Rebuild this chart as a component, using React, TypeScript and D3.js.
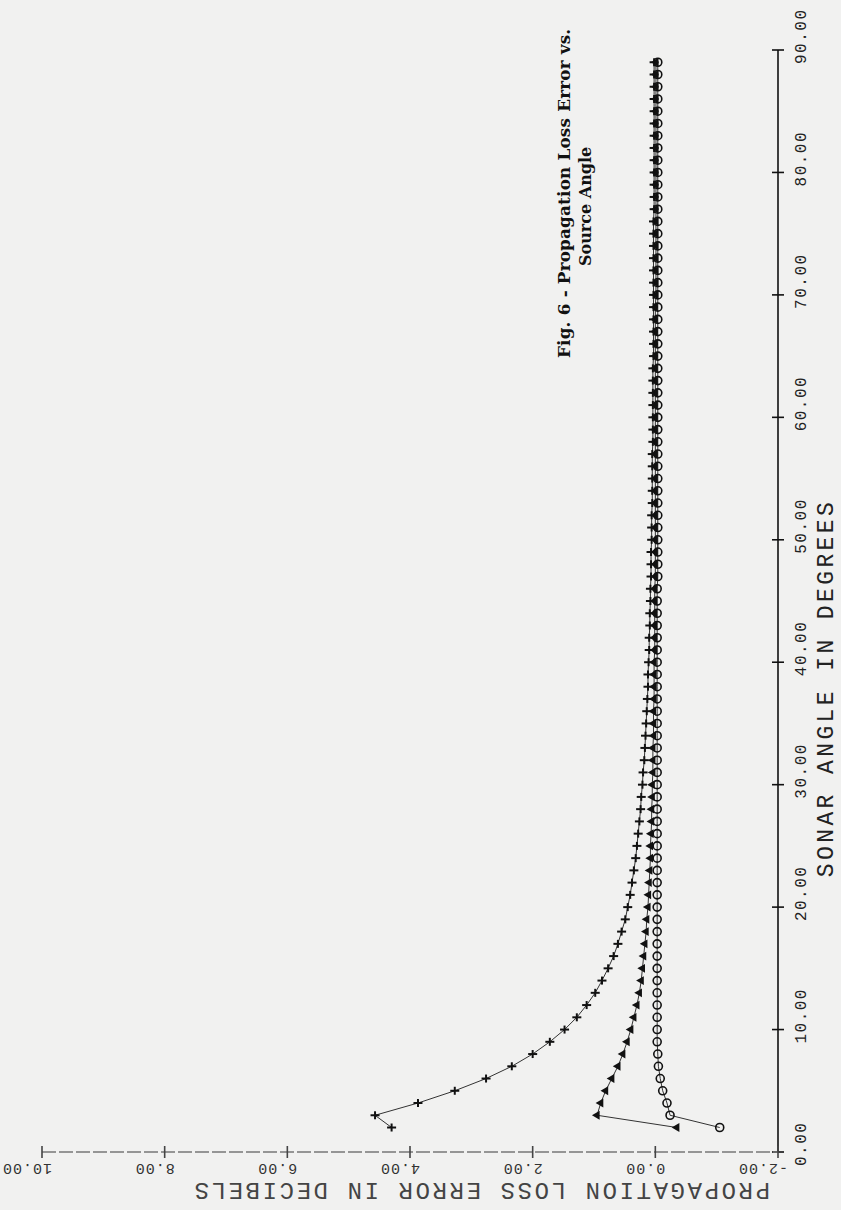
import React from 'react';
import * as d3 from 'd3';

// Sonar angle in degrees (x values)
const angles = [
  2, 3, 4, 5, 6, 7, 8, 9, 10, 11,
  12, 13, 14, 15, 16, 17, 18, 19, 20, 21,
  22, 23, 24, 25, 26, 27, 28, 29, 30, 31,
  32, 33, 34, 35, 36, 37, 38, 39, 40, 41,
  42, 43, 44, 45, 46, 47, 48, 49, 50, 51,
  52, 53, 54, 55, 56, 57, 58, 59, 60, 61,
  62, 63, 64, 65, 66, 67, 68, 69, 70, 71,
  72, 73, 74, 75, 76, 77, 78, 79, 80, 81,
  82, 83, 84, 85, 86, 87, 88, 89,
];

// Series with "+" markers
const seriesPlus = [
  4.30, 4.57, 3.87, 3.27, 2.76, 2.34, 2.00, 1.72, 1.48, 1.28,
  1.12, 0.98, 0.87, 0.77, 0.68, 0.61, 0.55, 0.49, 0.45, 0.41,
  0.38, 0.35, 0.32, 0.30, 0.28, 0.26, 0.24, 0.23, 0.21, 0.20,
  0.18, 0.17, 0.16, 0.15, 0.14, 0.13, 0.12, 0.12, 0.11, 0.10,
  0.10, 0.09, 0.09, 0.08, 0.08, 0.07, 0.07, 0.07, 0.06, 0.06,
  0.06, 0.05, 0.05, 0.05, 0.05, 0.05, 0.04, 0.04, 0.04, 0.04,
  0.04, 0.04, 0.04, 0.03, 0.03, 0.03, 0.03, 0.03, 0.03, 0.03,
  0.03, 0.03, 0.03, 0.03, 0.03, 0.02, 0.02, 0.02, 0.02, 0.02,
  0.02, 0.02, 0.02, 0.02, 0.02, 0.02, 0.02, 0.02,
];

// Series with triangle markers
const seriesTriangle = [
  -0.35, 0.95, 0.89, 0.81, 0.71, 0.61, 0.53, 0.46, 0.40, 0.35,
  0.30, 0.26, 0.23, 0.21, 0.19, 0.17, 0.15, 0.14, 0.12, 0.11,
  0.10, 0.09, 0.08, 0.08, 0.07, 0.06, 0.06, 0.05, 0.05, 0.04,
  0.04, 0.04, 0.03, 0.03, 0.03, 0.02, 0.02, 0.02, 0.02, 0.01,
  0.01, 0.01, 0.01, 0.01, 0.01, 0.00, 0.00, 0.00, 0.00, 0.00,
  0.00, 0.00, 0.00, 0.00, 0.00, 0.00, 0.00, 0.00, 0.00, 0.00,
  0.00, 0.00, 0.00, 0.00, 0.00, 0.00, 0.00, 0.00, -0.01, -0.01,
  -0.01, -0.01, -0.01, -0.01, -0.01, -0.01, -0.01, -0.01, -0.01, -0.01,
  -0.01, -0.01, -0.01, -0.01, -0.01, -0.01, -0.01, -0.01,
];

// Series with circle markers
const seriesCircle = [
  -1.05, -0.24, -0.19, -0.12, -0.08, -0.05, -0.04, -0.03, -0.03, -0.03,
  -0.03, -0.03, -0.03, -0.03, -0.03, -0.03, -0.03, -0.03, -0.03, -0.03,
  -0.03, -0.03, -0.03, -0.03, -0.03, -0.03, -0.03, -0.03, -0.03, -0.03,
  -0.03, -0.03, -0.03, -0.03, -0.03, -0.03, -0.03, -0.03, -0.03, -0.03,
  -0.03, -0.03, -0.03, -0.03, -0.03, -0.04, -0.04, -0.04, -0.04, -0.04,
  -0.04, -0.04, -0.04, -0.04, -0.04, -0.04, -0.04, -0.04, -0.04, -0.04,
  -0.04, -0.04, -0.04, -0.04, -0.04, -0.04, -0.04, -0.04, -0.04, -0.04,
  -0.04, -0.04, -0.04, -0.04, -0.04, -0.04, -0.04, -0.04, -0.04, -0.04,
  -0.04, -0.04, -0.04, -0.04, -0.04, -0.04, -0.04, -0.04,
];

const angleTicks = [0, 10, 20, 30, 40, 50, 60, 70, 80, 90];
const angleTickLabels = ['0.00', '10.00', '20.00', '30.00', '40.00', '50.00', '60.00', '70.00', '80.00', '90.00'];
const errTicks = [-2, 0, 2, 4, 6, 8, 10];
const errTickLabels = ['-2.00', '0.00', '2.00', '4.00', '6.00', '8.00', '10.00'];

const titleLine1 = 'Fig. 6 - Propagation Loss Error vs.';
const titleLine2 = 'Source Angle';
const angleTitle = 'SONAR ANGLE IN DEGREES';
const errTitle = 'PROPAGATION LOSS ERROR IN DECIBELS';

const W = 841;
const H = 1210;

export default function App() {
  // Chart is drawn rotated: angle runs up the right side, error runs leftwards along the bottom
  const yA = d3.scaleLinear().domain([0, 90]).range([1152, 50]);
  const xE = d3.scaleLinear().domain([-2, 10]).range([778, 42]);
  const axisX = xE(-2);
  const axisY = yA(0);

  const mkPts = (vals: number[]) => angles.map((a, i) => [xE(vals[i]), yA(a)] as [number, number]);
  const line = d3.line<[number, number]>();

  const ptsPlus = mkPts(seriesPlus);
  const ptsTri = mkPts(seriesTriangle);
  const ptsCirc = mkPts(seriesCircle);

  const triPath = d3.symbol().type(d3.symbolTriangle).size(34)() as string;

  const monoFont = "'Liberation Mono', 'DejaVu Sans Mono', monospace";
  const ink = '#111';

  return (
    <svg width={W} height={H} style={{ position: 'absolute', left: 0, top: 0 }}>
      <rect x={0} y={0} width={W} height={H} fill="#f1f1f0" />

      {/* Title */}
      <text transform={`translate(570,358) rotate(-90)`} fontFamily="'DejaVu Serif', serif" fontWeight="bold" fontSize={16.8} letterSpacing={0.2} fill={ink}>
        {titleLine1}
      </text>
      <text transform={`translate(591,266) rotate(-90)`} fontFamily="'DejaVu Serif', serif" fontWeight="bold" fontSize={16} fill={ink}>
        {titleLine2}
      </text>

      {/* Angle axis (vertical, right) */}
      <line x1={axisX} x2={axisX} y1={yA(90)} y2={yA(0)} stroke={ink} strokeWidth={1.6} />
      {angleTicks.map((t, i) => (
        <g key={'at' + i}>
          <line x1={axisX - 6} x2={axisX + 6} y1={yA(t)} y2={yA(t)} stroke={ink} strokeWidth={1.6} />
          <text transform={`translate(806,${yA(t) + 14}) rotate(-90)`} fontFamily={monoFont} fontSize={16} letterSpacing={1.5} fill="#222">
            {angleTickLabels[i]}
          </text>
        </g>
      ))}
      <text transform={`translate(833,688) rotate(-90)`} textAnchor="middle" fontFamily={monoFont} fontSize={23} letterSpacing={3.4} fill="#222">
        {angleTitle}
      </text>

      {/* Error axis (horizontal, bottom) */}
      <line x1={xE(10)} x2={axisX} y1={axisY} y2={axisY} stroke="#777" strokeWidth={1.3} strokeDasharray="14 3" />
      {errTicks.map((t, i) => (
        <g key={'et' + i}>
          <line x1={xE(t)} x2={xE(t)} y1={axisY - 6} y2={axisY + 6} stroke="#444" strokeWidth={1.6} />
          <text transform={`translate(${xE(t) + 10},1164) rotate(180)`} fontFamily={monoFont} fontSize={15} letterSpacing={1} fill="#333">
            {errTickLabels[i]}
          </text>
        </g>
      ))}
      <text transform={`translate(770,1183) rotate(180)`} fontFamily={monoFont} fontSize={24} letterSpacing={2.6} fill="#444">
        {errTitle}
      </text>

      {/* Series lines */}
      <path d={line(ptsPlus) || ''} fill="none" stroke="#333" strokeWidth={1} />
      <path d={line(ptsTri) || ''} fill="none" stroke="#333" strokeWidth={1} />
      <path d={line(ptsCirc) || ''} fill="none" stroke="#333" strokeWidth={1} />

      {/* Markers: plus */}
      {ptsPlus.map(([x, y], i) => (
        <g key={'p' + i} stroke={ink} strokeWidth={2}>
          <line x1={x - 4.5} x2={x + 4.5} y1={y} y2={y} />
          <line x1={x} x2={x} y1={y - 4} y2={y + 4} />
        </g>
      ))}
      {/* Markers: triangles pointing left */}
      {ptsTri.map(([x, y], i) => (
        <path key={'t' + i} d={triPath} transform={`translate(${x},${y}) rotate(-90)`} fill={ink} />
      ))}
      {/* Markers: open circles */}
      {ptsCirc.map(([x, y], i) => (
        <circle key={'c' + i} cx={x} cy={y} r={4} fill="none" stroke={ink} strokeWidth={1.6} />
      ))}
    </svg>
  );
}
